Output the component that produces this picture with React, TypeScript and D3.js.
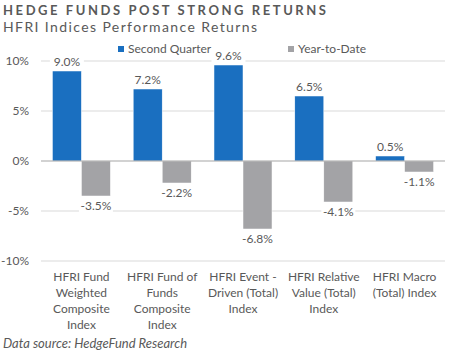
import React from "react";
import * as d3 from "d3";

const categories: string[][] = [
  ["HFRI Fund", "Weighted", "Composite", "Index"],
  ["HFRI Fund of", "Funds", "Composite", "Index"],
  ["HFRI Event -", "Driven (Total)", "Index"],
  ["HFRI Relative", "Value (Total)", "Index"],
  ["HFRI Macro", "(Total) Index"],
];
const secondQuarter = [9.0, 7.2, 9.6, 6.5, 0.5];
const yearToDate = [-3.5, -2.2, -6.8, -4.1, -1.1];
const seriesNames = ["Second Quarter", "Year-to-Date"];
const yTicks = [10, 5, 0, -5, -10];

const W = 450;
const H = 354;
const FONT = "Lato, 'Open Sans', sans-serif";
const TEXT = "#595959";
const BLUE = "#1a6fc0";
const GRAY = "#a3a3a6";

export default function App() {
  const x0 = d3
    .scaleBand<number>()
    .domain(d3.range(categories.length))
    .range([41, 445])
    .paddingInner(0.282)
    .paddingOuter(0.141);
  const x1 = d3.scaleBand<number>().domain([0, 1]).range([0, x0.bandwidth()]);
  const y = d3.scaleLinear().domain([-10, 10]).range([261, 61]);
  const fmt = (v: number) => `${v.toFixed(1)}%`;

  const series = [secondQuarter, yearToDate];
  const colors = [BLUE, GRAY];

  return (
    <svg width={W} height={H} style={{ position: "absolute", left: 0, top: 0, background: "#fff" }}>
      <text x={3} y={15} fontFamily={FONT} fontWeight={700} fontSize={13} fill={TEXT} textLength={323} lengthAdjust="spacing">
        HEDGE FUNDS POST STRONG RETURNS
      </text>
      <text x={3} y={31.5} fontFamily={FONT} fontSize={14} fill={TEXT} textLength={254} lengthAdjust="spacing">
        HFRI Indices Performance Returns
      </text>

      {/* legend */}
      {seriesNames.map((n, i) => {
        const lx = i === 0 ? 118 : 288;
        return (
          <g key={n}>
            <rect x={lx} y={46} width={6} height={6} fill={colors[i]} />
            <text x={lx + 10} y={52.5} fontFamily={FONT} fontSize={12} fill={TEXT}>
              {n}
            </text>
          </g>
        );
      })}

      {/* gridlines */}
      {yTicks.map((t) => (
        <g key={t}>
          {t !== 0 && <line x1={41} x2={445} y1={y(t)} y2={y(t)} stroke="#d9d9d9" strokeWidth={1} />}
          <text x={29} y={y(t) + 4} textAnchor="end" fontFamily={FONT} fontSize={12} fill={TEXT}>
            {`${t}%`}
          </text>
        </g>
      ))}

      {/* bars */}
      {series.map((s, si) =>
        s.map((v, ci) => {
          const bx = (x0(ci) as number) + (x1(si) as number);
          return (
            <rect
              key={`${si}-${ci}`}
              x={bx}
              y={Math.min(y(v), y(0))}
              width={x1.bandwidth()}
              height={Math.abs(y(v) - y(0))}
              fill={colors[si]}
              stroke="#ffffff"
              strokeWidth={0.5}
            />
          );
        })
      )}

      <line x1={41} x2={445} y1={y(0)} y2={y(0)} stroke="#a6a6a6" strokeWidth={1.2} />

      {/* value labels */}
      {series.map((s, si) =>
        s.map((v, ci) => {
          const cx = (x0(ci) as number) + (x1(si) as number) + x1.bandwidth() / 2;
          const ty = v >= 0 ? y(v) - 5 : y(v) + 14;
          return (
            <g key={`l${si}-${ci}`}>
              <rect x={cx - 17} y={ty - 11} width={34} height={14} fill="#fff" />
              <text x={cx} y={ty} textAnchor="middle" fontFamily={FONT} fontSize={12} fill={TEXT}>
                {fmt(v)}
              </text>
            </g>
          );
        })
      )}

      {/* category labels */}
      {categories.map((lines, ci) => {
        const cx = (x0(ci) as number) + x0.bandwidth() / 2;
        return (
          <text key={ci} textAnchor="middle" fontFamily={FONT} fontSize={12} fill={TEXT}>
            {lines.map((l, li) => (
              <tspan key={li} x={cx} y={281 + li * 16}>
                {l}
              </tspan>
            ))}
          </text>
        );
      })}

      <text x={3} y={348} fontFamily={FONT} fontStyle="italic" fontSize={13} fill={TEXT}>
        Data source: HedgeFund Research
      </text>
    </svg>
  );
}
